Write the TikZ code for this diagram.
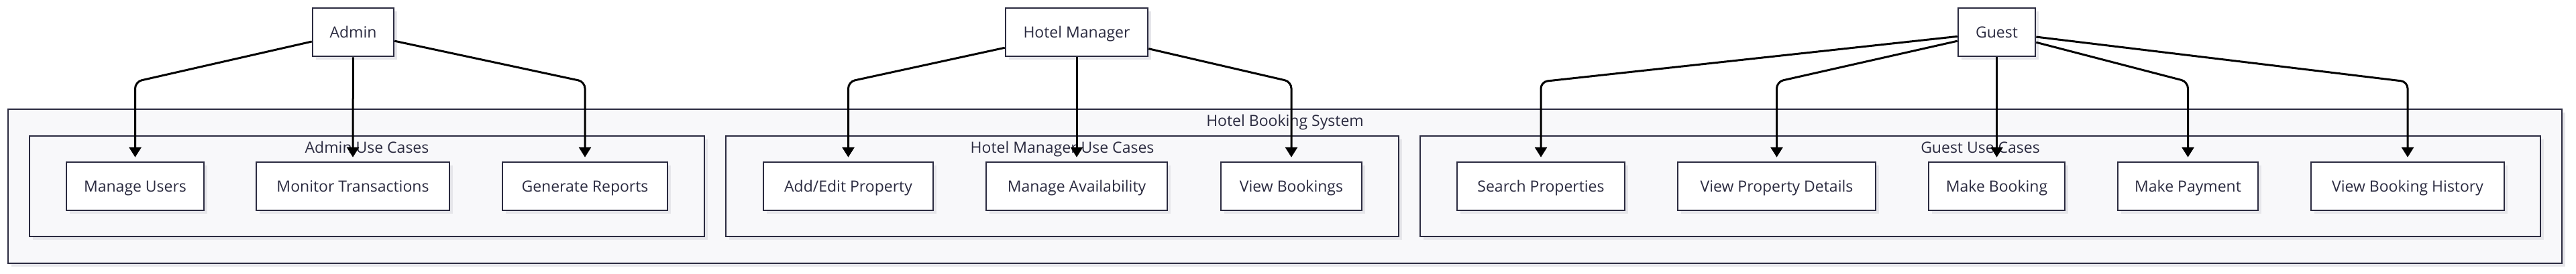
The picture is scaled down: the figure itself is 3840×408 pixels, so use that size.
\documentclass[tikz,border=0pt]{standalone}
\usepackage{fontspec}
\setmainfont{Open Sans}
\usetikzlibrary{arrows.meta,shadows}
\definecolor{ink}{HTML}{2B2B40}
\definecolor{groupfill}{HTML}{F8F8FA}
\definecolor{shade}{HTML}{E6E6EA}
\tikzset{
  boxshadow/.style={drop shadow={shadow xshift=5pt,shadow yshift=-5pt,fill=shade,opacity=1}},
  actor/.style={draw=ink,fill=white,line width=2.5pt,text=ink,minimum height=72pt,
    inner sep=0pt,font=\fontsize{23}{27}\selectfont,text height=16.4pt,text depth=0pt,boxshadow},
  usecase/.style={draw=ink,fill=white,line width=2.5pt,text=ink,minimum height=72pt,
    inner sep=0pt,font=\fontsize{23}{27}\selectfont,text height=16.4pt,text depth=0pt,boxshadow},
  groupbox/.style={draw=ink,fill=groupfill,line width=2.5pt,inner sep=0pt,boxshadow},
  grouplabel/.style={text=ink,inner sep=0pt,font=\fontsize{23}{27}\selectfont,
    text height=16.4pt,text depth=0pt},
  link/.style={draw=black,line width=3pt,rounded corners=10pt,-{Triangle[length=15pt,width=18pt]},
    shorten >=6pt},
}
\begin{document}
\begin{tikzpicture}[x=1pt,y=-1pt]
  \useasboundingbox (0,0) rectangle (3840,408);
  % system and groups
  \node[groupbox,minimum width=3807pt,minimum height=230pt] (system) at (1915.5,278) {};
  \node[grouplabel] (systemlabel) at (1915.5,180) {Hotel Booking System};
  \node[groupbox,minimum width=1006pt,minimum height=150pt] (admingroup) at (547,278) {};
  \node[groupbox,minimum width=1003pt,minimum height=150pt] (managergroup) at (1583.5,278) {};
  \node[groupbox,minimum width=1670pt,minimum height=150pt] (guestgroup) at (2952,278) {};
  \node[grouplabel] (adminlabel) at (547,220) {Admin Use Cases};
  \node[grouplabel] (managerlabel) at (1583.5,220) {Hotel Manager Use Cases};
  \node[grouplabel] (guestlabel) at (2952,220) {Guest Use Cases};
  % actors
  \node[actor,minimum width=121pt] (admin) at (526.5,48) {Admin};
  \node[actor,minimum width=212pt] (manager) at (1605,48) {Hotel Manager};
  \node[actor,minimum width=115pt] (guest) at (2976.5,48) {Guest};
  % use cases
  \node[usecase,minimum width=205pt] (users) at (201.5,278) {Manage Users};
  \node[usecase,minimum width=288pt] (transactions) at (526,278) {Monitor Transactions};
  \node[usecase,minimum width=246pt] (reports) at (872,278) {Generate Reports};
  \node[usecase,minimum width=253pt] (property) at (1264.5,278) {Add/Edit Property};
  \node[usecase,minimum width=270pt] (availability) at (1605,278) {Manage Availability};
  \node[usecase,minimum width=210pt] (bookings) at (1925,278) {View Bookings};
  \node[usecase,minimum width=250pt] (search) at (2297,278) {Search Properties};
  \node[usecase,minimum width=295pt] (details) at (2648.5,278) {View Property Details};
  \node[usecase,minimum width=203pt] (booking) at (2976.5,278) {Make Booking};
  \node[usecase,minimum width=209pt] (payment) at (3261.5,278) {Make Payment};
  \node[usecase,minimum width=288pt] (history) at (3589,278) {View Booking History};
  % bends
  \coordinate (b1) at (201.5,122);
  \coordinate (b2) at (872,122);
  \coordinate (b3) at (1264.5,122);
  \coordinate (b4) at (1925,122);
  \coordinate (b5) at (2297,122);
  \coordinate (b6) at (2648.5,122);
  \coordinate (b7) at (3261.5,122);
  \coordinate (b8) at (3589,122);
  % links
  \draw[link] (admin) -- (b1) -- (users.north);
  \draw[link] (admin) -- (transactions.north);
  \draw[link] (admin) -- (b2) -- (reports.north);
  \draw[link] (manager) -- (b3) -- (property.north);
  \draw[link] (manager) -- (availability.north);
  \draw[link] (manager) -- (b4) -- (bookings.north);
  \draw[link] (guest) -- (b5) -- (search.north);
  \draw[link] (guest) -- (b6) -- (details.north);
  \draw[link] (guest) -- (booking.north);
  \draw[link] (guest) -- (b7) -- (payment.north);
  \draw[link] (guest) -- (b8) -- (history.north);
\end{tikzpicture}
\end{document}
